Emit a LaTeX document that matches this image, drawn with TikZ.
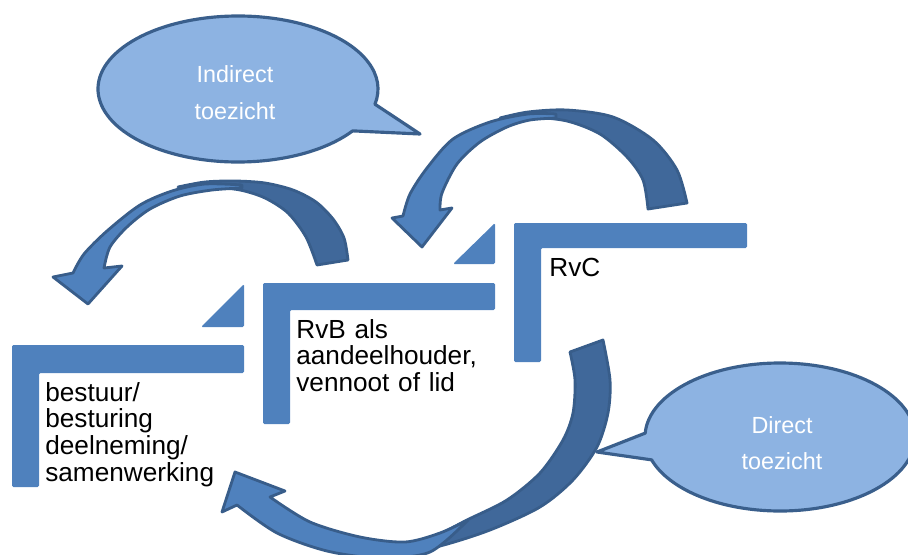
\documentclass[tikz,border=0pt]{standalone}
\usepackage{fontspec}
\setmainfont{Liberation Sans}
\definecolor{lblue}{HTML}{4F81BD}
\definecolor{darkarr}{HTML}{40689A}
\definecolor{arrstroke}{HTML}{385D8A}
\definecolor{bubblefill}{HTML}{8DB3E2}
\definecolor{bubblestroke}{HTML}{3A5F8C}
\tikzset{
  lshape/.style={fill=lblue, rounded corners=0.8pt},
  arrowback/.style={fill=darkarr, draw=arrstroke, line width=1.6pt, line join=round},
  arrowfront/.style={fill=lblue, draw=arrstroke, line width=1.6pt, line join=round},
  bubble/.style={fill=bubblefill, draw=bubblestroke, line width=1.8pt, line join=round},
  ltext/.style={anchor=base west, inner sep=0pt, text width=4.5cm, align=left,
    font=\fontsize{14.9pt}{15.3pt}\selectfont},
  ctext/.style={anchor=base, inner sep=0pt, text width=3cm, align=center, text=white,
    font=\fontsize{13.3pt}{21pt}\selectfont}
}
\begin{document}
\begin{tikzpicture}[x=0.02cm,y=-0.02cm]
\useasboundingbox (0,0) rectangle (908,554);
\clip (0,0) rectangle (908,554);

% corner shapes and triangles
\fill[lshape] (12,345) -- (244,345) -- (244,373) -- (39,373) -- (39,487) -- (12,487) -- cycle;
\fill[lshape] (201,327) -- (244,284) -- (244,327) -- cycle;
\fill[lshape] (263,283) -- (495,283) -- (495,310) -- (290,310) -- (290,424) -- (263,424) -- cycle;
\fill[lshape] (453,264) -- (495,223) -- (495,264) -- cycle;
\fill[lshape] (514,223) -- (747,223) -- (747,248) -- (541,248) -- (541,362) -- (514,362) -- cycle;

% arrow 1 (top left)
\draw[arrowback] (317,265) -- (348,260)
  -- plot[smooth] coordinates {(348,260) (344,238) (333,219) (316,202) (293,190) (265,183) (235,181) (205,182) (178,187)}
  -- plot[smooth] coordinates {(178,187) (210,187) (240,190) (265,198) (288,213) (306,237) (317,265)} -- cycle;
\draw[arrowfront] plot[smooth] coordinates {(242,185) (205,184) (172,191) (140,205) (107,231) (84,254) (73,273)}
  -- (53,277) -- (88,304) -- (122,266) -- (104,268)
  -- plot[smooth] coordinates {(104,268) (110,247) (127,227) (150,209) (180,196) (212,190) (242,188)} -- cycle;

% arrow 2 (top right)
\draw[arrowback] (648,209) -- (687,203)
  -- plot[smooth] coordinates {(687,203) (677,170) (653,140) (613,117) (567,110) (528,112) (500,118)}
  -- plot[smooth] coordinates {(500,118) (530,117) (567,121) (600,134) (627,157) (643,180) (648,209)} -- cycle;
\draw[arrowfront] plot[smooth] coordinates {(556,114) (528,114) (490,122) (453,139) (427,168) (410,194) (403,216)}
  -- (392,218) -- (422,247) -- (452,208) -- (440,210)
  -- plot[smooth] coordinates {(440,210) (442,193) (457,164) (480,142) (507,127) (530,120) (556,118)} -- cycle;

% arrow 3 (bottom)
\draw[arrowback] (570,352) -- (603,340)
  -- plot[smooth] coordinates {(603,340) (610,380) (608,413) (597,447) (573,480) (540,507) (490,530) (440,546) (400,553)}
  -- plot[smooth] coordinates {(400,553) (440,534) (467,520) (507,500) (540,473) (563,440) (573,413) (575,380) (570,352)} -- cycle;
\draw[arrowfront] plot[smooth] coordinates {(468,520) (440,533) (405,542) (360,537) (310,522) (270,497)}
  -- (285,491) -- (235,472) -- (222,512) -- (237,505)
  -- plot[smooth] coordinates {(237,505) (277,533) (327,551) (380,558) (430,552) (468,520)} -- cycle;

% callouts
\draw[bubble] (238,89) ++(35:140 and 73) arc[start angle=35, end angle=372, x radius=140, y radius=73]
  -- (420,134) -- cycle;
\draw[bubble] (780,437) ++(183:135 and 74) arc[start angle=183, end angle=522, x radius=135, y radius=74]
  -- (597,452) -- cycle;

% texts
\node[ltext] (bestuur) at (45,401) {bestuur/\\besturing\\deelneming/\\samenwerking};
\node[ltext] (rvb) at (296,338) {RvB als\\aandeelhouder,\\vennoot of lid};
\node[ltext] (rvc) at (549,276) {RvC};
\node[ctext] (indirect) at (235,83) {Indirect\\toezicht};
\node[ctext] (direct) at (782,433) {Direct\\toezicht};
\end{tikzpicture}
\end{document}
